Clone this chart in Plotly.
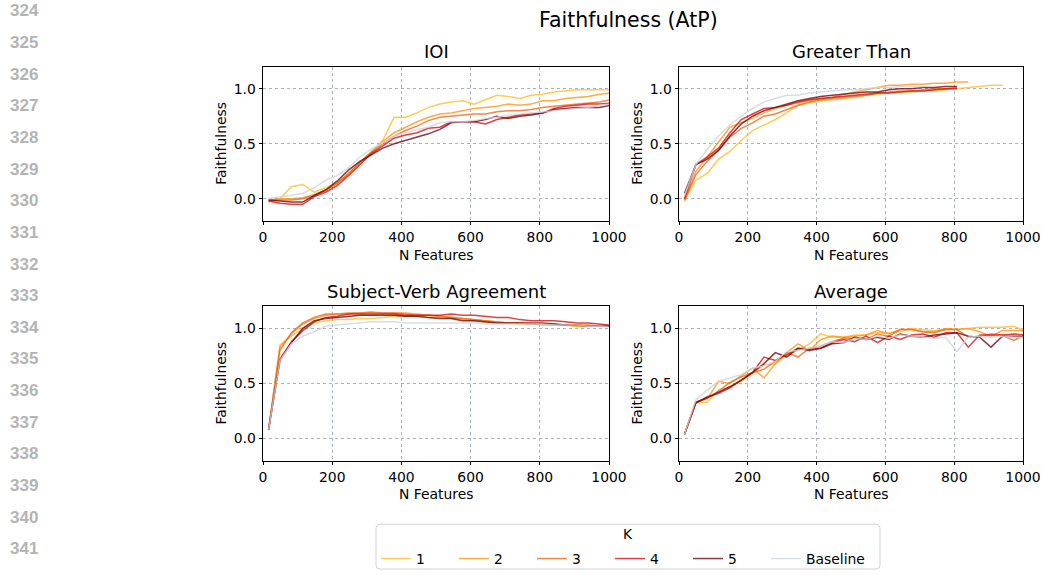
import plotly.graph_objects as go

# ---- data -------------------------------------------------------------
n_features = [16, 49, 82, 115, 148, 181, 214, 247, 280, 313, 346, 379, 412, 445, 478,
              511, 544, 577, 610, 643, 676, 709, 742, 775, 808, 841, 874, 907, 940, 973, 1006]

series_names = ["1", "2", "3", "4", "5", "Baseline"]

ioi_k1 = [-0.03, 0.00, 0.11, 0.13, 0.06, 0.10, 0.15, 0.22, 0.32, 0.42, 0.53, 0.74, 0.74, 0.78, 0.83,
          0.86, 0.88, 0.89, 0.86, 0.90, 0.94, 0.93, 0.91, 0.94, 0.95, 0.97, 0.98, 0.99, 0.99, 0.99, 0.99]
ioi_k2 = [-0.01, 0.00, 0.00, 0.01, 0.04, 0.08, 0.14, 0.23, 0.33, 0.43, 0.52, 0.60, 0.65, 0.70, 0.74,
          0.77, 0.78, 0.80, 0.82, 0.83, 0.84, 0.86, 0.85, 0.86, 0.89, 0.89, 0.91, 0.92, 0.93, 0.95, 0.96]
ioi_k3 = [-0.01, -0.01, -0.01, 0.00, 0.03, 0.08, 0.14, 0.23, 0.33, 0.42, 0.50, 0.57, 0.62, 0.66, 0.71,
          0.74, 0.75, 0.76, 0.77, 0.77, 0.79, 0.80, 0.80, 0.81, 0.83, 0.84, 0.85, 0.86, 0.87, 0.88, 0.90]
ioi_k4 = [-0.02, -0.04, -0.05, -0.05, 0.02, 0.06, 0.12, 0.21, 0.31, 0.41, 0.48, 0.55, 0.58, 0.60, 0.64,
          0.65, 0.70, 0.70, 0.70, 0.68, 0.72, 0.74, 0.76, 0.77, 0.78, 0.82, 0.84, 0.85, 0.86, 0.86, 0.87]
ioi_k5 = [-0.01, -0.02, -0.03, -0.03, 0.03, 0.08, 0.16, 0.26, 0.34, 0.40, 0.46, 0.50, 0.53, 0.56, 0.59,
          0.63, 0.69, 0.70, 0.70, 0.72, 0.75, 0.73, 0.75, 0.76, 0.78, 0.81, 0.82, 0.83, 0.83, 0.83, 0.85]
ioi_base = [0.00, 0.02, 0.03, 0.05, 0.10, 0.17, 0.21, 0.28, 0.38, 0.45, 0.51, 0.57, 0.60, 0.63, 0.65,
            0.69, 0.70, 0.70, 0.71, 0.73, 0.74, 0.76, 0.77, 0.78, 0.79, 0.80, 0.81, 0.82, 0.83, 0.85, 0.86]

gt_k1 = [-0.01, 0.17, 0.23, 0.36, 0.43, 0.53, 0.62, 0.67, 0.72, 0.78, 0.85, 0.87, 0.89, 0.90, 0.91,
         0.92, 0.94, 0.95, 0.96, 0.97, 0.97, 0.98, 0.98, 0.99, 1.00, 1.01, 1.02, 1.03, 1.03]
gt_k2 = [-0.02, 0.25, 0.38, 0.52, 0.65, 0.69, 0.73, 0.78, 0.82, 0.85, 0.87, 0.89, 0.91, 0.92, 0.95,
         0.97, 0.99, 1.01, 1.03, 1.03, 1.04, 1.04, 1.05, 1.05, 1.06, 1.06]
gt_k3 = [-0.01, 0.22, 0.34, 0.44, 0.56, 0.64, 0.69, 0.75, 0.77, 0.81, 0.85, 0.88, 0.90, 0.91, 0.92,
         0.93, 0.94, 0.96, 0.97, 0.98, 0.98, 0.99, 1.00, 1.00, 1.01]
gt_k4 = [0.00, 0.31, 0.38, 0.46, 0.60, 0.72, 0.77, 0.82, 0.83, 0.85, 0.88, 0.90, 0.91, 0.92, 0.93,
         0.94, 0.95, 0.96, 0.96, 0.97, 0.98, 0.98, 0.99, 1.00, 1.00]
gt_k5 = [0.05, 0.31, 0.36, 0.44, 0.57, 0.68, 0.75, 0.80, 0.83, 0.86, 0.89, 0.91, 0.93, 0.94, 0.95,
         0.96, 0.97, 0.97, 0.99, 1.00, 1.00, 1.01, 1.01, 1.02, 1.02]
gt_base = [0.03, 0.31, 0.45, 0.57, 0.67, 0.75, 0.82, 0.88, 0.91, 0.94, 0.94, 0.96, 0.97, 0.98, 0.99,
           0.99, 1.00, 1.01, 1.01, 1.02, 1.02, 1.02]

sva_k1 = [0.08, 0.85, 0.93, 1.00, 1.05, 1.07, 1.08, 1.08, 1.09, 1.09, 1.10, 1.11, 1.11, 1.11, 1.10,
          1.10, 1.09, 1.08, 1.07, 1.06, 1.05, 1.05, 1.04, 1.04, 1.03, 1.03, 1.03, 1.02, 1.02, 1.02, 1.02]
sva_k2 = [0.08, 0.83, 0.95, 1.04, 1.09, 1.12, 1.13, 1.13, 1.14, 1.14, 1.14, 1.14, 1.14, 1.13, 1.12,
          1.11, 1.10, 1.09, 1.08, 1.07, 1.06, 1.05, 1.05, 1.04, 1.04, 1.03, 1.03, 1.02, 1.02, 1.02, 1.02]
sva_k3 = [0.08, 0.80, 0.96, 1.05, 1.10, 1.13, 1.13, 1.14, 1.14, 1.15, 1.14, 1.14, 1.13, 1.12, 1.12,
          1.11, 1.10, 1.09, 1.08, 1.07, 1.06, 1.05, 1.05, 1.04, 1.04, 1.04, 1.03, 1.03, 1.03, 1.02, 1.02]
sva_k4 = [0.08, 0.72, 0.88, 0.98, 1.06, 1.10, 1.11, 1.13, 1.13, 1.13, 1.13, 1.13, 1.12, 1.12, 1.12,
          1.12, 1.13, 1.12, 1.12, 1.11, 1.10, 1.10, 1.08, 1.07, 1.07, 1.07, 1.06, 1.05, 1.05, 1.04, 1.03]
sva_k5 = [0.08, 0.71, 0.87, 1.00, 1.07, 1.09, 1.10, 1.11, 1.12, 1.12, 1.12, 1.12, 1.11, 1.11, 1.10,
          1.09, 1.09, 1.07, 1.07, 1.06, 1.05, 1.05, 1.05, 1.05, 1.05, 1.04, 1.03, 1.03, 1.02, 1.02, 1.02]
sva_base = [0.08, 0.71, 0.86, 0.93, 0.97, 1.02, 1.03, 1.04, 1.05, 1.06, 1.06, 1.06, 1.05, 1.05, 1.05,
            1.05, 1.05, 1.05, 1.05, 1.04, 1.04, 1.04, 1.04, 1.04, 1.04, 1.03, 1.03, 1.03, 1.02, 1.02, 1.01]

avg_k1 = [0.04, 0.33, 0.33, 0.44, 0.47, 0.52, 0.59, 0.67, 0.68, 0.76, 0.80, 0.86, 0.95, 0.92, 0.92,
          0.94, 0.94, 0.96, 0.96, 0.97, 1.00, 0.99, 0.98, 0.99, 0.99, 1.00, 1.01, 1.01, 1.01, 1.02, 0.98]
avg_k2 = [0.04, 0.33, 0.36, 0.52, 0.50, 0.57, 0.64, 0.55, 0.68, 0.78, 0.86, 0.80, 0.90, 0.93, 0.92,
          0.93, 0.94, 0.98, 0.95, 0.99, 0.99, 0.97, 0.97, 1.00, 0.99, 1.00, 0.97, 0.93, 0.98, 0.98, 0.98]
avg_k3 = [0.04, 0.33, 0.37, 0.43, 0.51, 0.56, 0.60, 0.63, 0.70, 0.78, 0.74, 0.82, 0.84, 0.88, 0.91,
          0.91, 0.90, 0.95, 0.93, 0.99, 0.99, 0.97, 0.96, 0.99, 0.99, 0.92, 0.93, 0.95, 0.94, 0.89, 0.94]
avg_k4 = [0.04, 0.32, 0.38, 0.41, 0.46, 0.53, 0.60, 0.74, 0.71, 0.76, 0.82, 0.81, 0.82, 0.87, 0.90,
          0.88, 0.93, 0.87, 0.93, 0.90, 0.94, 0.95, 0.92, 0.96, 0.96, 0.83, 0.94, 0.94, 0.94, 0.95, 0.94]
avg_k5 = [0.04, 0.33, 0.37, 0.42, 0.47, 0.53, 0.60, 0.68, 0.78, 0.74, 0.82, 0.80, 0.82, 0.86, 0.87,
          0.92, 0.90, 0.92, 0.90, 0.95, 0.93, 0.92, 0.94, 0.95, 0.96, 0.93, 0.92, 0.83, 0.93, 0.93, 0.93]
avg_base = [0.04, 0.35, 0.44, 0.52, 0.55, 0.58, 0.64, 0.66, 0.70, 0.79, 0.80, 0.82, 0.84, 0.88, 0.87,
            0.91, 0.90, 0.93, 0.91, 0.94, 0.93, 0.92, 0.91, 0.92, 0.79, 0.92, 0.93, 0.92, 0.93, 0.92, 0.92]

panels = [
    ("IOI", [ioi_k1, ioi_k2, ioi_k3, ioi_k4, ioi_k5, ioi_base]),
    ("Greater Than", [gt_k1, gt_k2, gt_k3, gt_k4, gt_k5, gt_base]),
    ("Subject-Verb Agreement", [sva_k1, sva_k2, sva_k3, sva_k4, sva_k5, sva_base]),
    ("Average", [avg_k1, avg_k2, avg_k3, avg_k4, avg_k5, avg_base]),
]

line_numbers = ["324", "325", "326", "327", "328", "329", "330", "331", "332",
                "333", "334", "335", "336", "337", "338", "339", "340", "341"]

x_ticks = [0, 200, 400, 600, 800, 1000]
y_ticks = [0.0, 0.5, 1.0]

# ---- styling ----------------------------------------------------------
colors = ["rgba(255,190,40,0.8)", "rgba(255,150,20,0.8)", "rgba(238,105,30,0.8)",
          "rgba(218,18,18,0.8)", "rgba(112,8,18,0.8)", "rgba(205,212,221,0.8)"]

W, H = 1043, 575
FONT = "DejaVu Sans"
BASE = 13.9      # 10 pt at 100 dpi
TITLE = 18
SUPTITLE = 20.5


def px_x(p):
    return p / W


def px_y(p):
    return 1 - p / H


def text_note(text, x, y, size, **extra):
    opts = dict(text=text, x=px_x(x), y=px_y(y), xref="paper", yref="paper",
                xanchor="center", yanchor="middle", showarrow=False,
                font=dict(family=FONT, size=size, color="black"))
    opts.update(extra)
    return opts


# plot-area boxes in pixels: (left, right, top, bottom)
boxes = [(263, 609, 67, 222), (679, 1023, 67, 222),
         (263, 609, 308, 463), (679, 1023, 308, 463)]

fig = go.Figure()
layout = {}
annotations = []

for idx, ((title, data), (l, r, t, b)) in enumerate(zip(panels, boxes)):
    n = idx + 1
    xa = "x" if n == 1 else f"x{n}"
    ya = "y" if n == 1 else f"y{n}"
    for k, (name, vals) in enumerate(zip(series_names, data)):
        fig.add_trace(go.Scatter(
            x=n_features[:len(vals)], y=vals, mode="lines", name=name,
            legendgroup=name, showlegend=(idx == 0),
            legend="legend2" if name == "Baseline" else "legend",
            line=dict(color=colors[k], width=1.5),
            xaxis=xa, yaxis=ya, cliponaxis=True,
        ))
    common = dict(showline=True, mirror=True, linecolor="black", linewidth=1,
                  ticks="outside", ticklen=3.5, tickwidth=1, tickcolor="black",
                  showgrid=True, gridcolor="#aab2bd", griddash="dot", gridwidth=0.8,
                  zeroline=False, automargin=False,
                  tickfont=dict(family=FONT, size=BASE, color="black"))
    layout[f"xaxis{'' if n == 1 else n}"] = dict(
        domain=[px_x(l), px_x(r)], range=[0, 1000], anchor=ya,
        tickvals=x_ticks, ticktext=[str(v) for v in x_ticks], **common)
    layout[f"yaxis{'' if n == 1 else n}"] = dict(
        domain=[px_y(b), px_y(t)], range=[-0.2, 1.2], anchor=xa,
        tickvals=y_ticks, ticktext=[f"{v:.1f}" for v in y_ticks], **common)
    cx = (l + r) / 2
    annotations.append(text_note(title, cx, t - 15, TITLE))
    annotations.append(text_note("N Features", cx, b + 34, BASE))
    annotations.append(text_note("Faithfulness", l - 42, (t + b) / 2, BASE, textangle=-90))

annotations.append(text_note("Faithfulness (AtP)", 628, 20, SUPTITLE))

for i, num in enumerate(line_numbers):
    annotations.append(dict(text=f"<b>{num}</b>", x=px_x(8), y=px_y(11 + i * 31.8),
                            xref="paper", yref="paper", xanchor="left", yanchor="middle",
                            showarrow=False,
                            font=dict(family="Liberation Sans", size=17, color="#b4b4b4")))

# legend frame (rounded corners) and its title
lx0, lx1, ly0, ly1 = 376, 880, 527, 572
rad = 4
pts = dict(a=px_x(lx0), b=px_x(lx1), c=px_y(ly0), d=px_y(ly1),
           rx=rad / W, ry=rad / H)
frame_path = ("M {ar},{c} L {bl},{c} Q {b},{c} {b},{cd} L {b},{du} Q {b},{d} {bl},{d} "
              "L {ar},{d} Q {a},{d} {a},{du} L {a},{cd} Q {a},{c} {ar},{c} Z").format(
    ar=pts["a"] + pts["rx"], bl=pts["b"] - pts["rx"], c=pts["c"], d=pts["d"],
    cd=pts["c"] - pts["ry"], du=pts["d"] + pts["ry"], a=pts["a"], b=pts["b"])
fig.add_shape(type="path", path=frame_path, xref="paper", yref="paper",
              line=dict(color="#d4d4d4", width=1), fillcolor="rgba(0,0,0,0)", layer="below")
annotations.append(text_note("K", (lx0 + lx1) / 2, 537, BASE))

legend_common = dict(orientation="h", yanchor="top", xanchor="left",
                     font=dict(family=FONT, size=BASE, color="black"),
                     borderwidth=0, bgcolor="rgba(0,0,0,0)", tracegroupgap=0)

fig.update_layout(
    width=W, height=H, margin=dict(l=0, r=0, t=0, b=0),
    paper_bgcolor="white", plot_bgcolor="white",
    font=dict(family=FONT, size=BASE, color="black"),
    annotations=annotations,
    legend=dict(x=px_x(lx0), y=px_y(546), entrywidth=33, entrywidthmode="pixels",
                **legend_common),
    legend2=dict(x=px_x(lx0 + 5 * 78), y=px_y(546), **legend_common),
    **layout,
)

fig.write_html("out.html")
